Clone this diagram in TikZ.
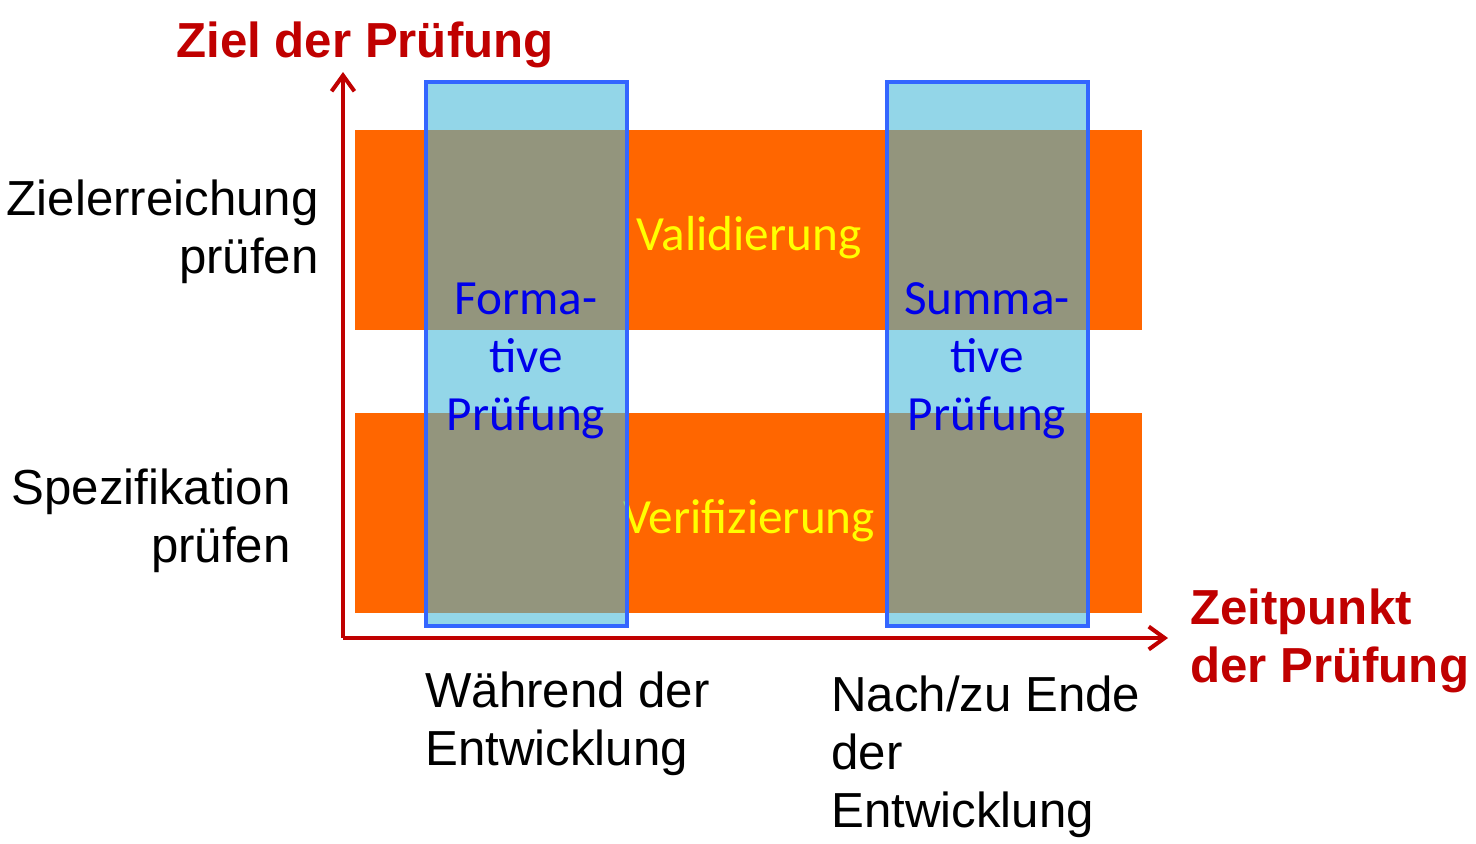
\documentclass[tikz,border=0pt]{standalone}
\usepackage{fontspec}
\setmainfont{Liberation Sans}
\newfontfamily\calibri{Carlito}
\usetikzlibrary{arrows.meta, positioning}
\definecolor{bandorange}{RGB}{255,102,0}
\definecolor{phaseblue}{RGB}{69,184,216}
\definecolor{edgeblue}{RGB}{51,102,255}
\definecolor{axisred}{RGB}{192,0,0}
\definecolor{textblue}{RGB}{0,0,235}
\definecolor{textyellow}{RGB}{255,255,0}

\begin{document}
\begin{tikzpicture}[x=0.02cm, y=-0.02cm,
  every node/.style={inner sep=0pt, font=\fontsize{28}{33}\selectfont},
  band/.style={fill=bandorange},
  phase/.style={fill=phaseblue, fill opacity=0.58, draw=edgeblue, draw opacity=1, line width=2.3pt},
  bandlabel/.style={text=textyellow, font=\calibri\fontsize{28}{33}\selectfont},
  phaselabel/.style={text=textblue, align=center, font=\calibri\fontsize{28}{33}\selectfont},
  axis/.style={draw=axisred, line width=2.3pt, -{Straight Barb[length=9pt,width=13pt]}},
  axislabel/.style={text=axisred, font=\bfseries\fontsize{28}{33}\selectfont}]
\useasboundingbox (0,0) rectangle (1476,843);

% Bands
\fill[band] (355,130) rectangle (1142,330);
\fill[band] (355,413) rectangle (1142,613);
\node[bandlabel, anchor=base] (valid) at (749,250) {Validierung};
\node[bandlabel, anchor=base] (verif) at (749,533) {Verifizierung};

% Phases
\draw[phase] (426,82) rectangle (627,626);
\draw[phase] (887,82) rectangle (1088,626);
\node[phaselabel, anchor=base] (formativ) at (526,430) {Forma-\\tive\\Prüfung};
\node[phaselabel, anchor=base] (summativ) at (987,430) {Summa-\\tive\\Prüfung};

% Axes
\coordinate (origin) at (343,638);
\coordinate (ytip) at (343,72);
\coordinate (xtip) at (1168,638);
\draw[axis] (origin) -- (ytip);
\draw[axis] (origin) -- (xtip);
\node[axislabel, anchor=base] (ylabel) at (365,57) {Ziel der Prüfung};
\node[axislabel, anchor=base west, align=left] (xlabel) at (1190,682) {Zeitpunkt\\der Prüfung};

% Row labels
\node[anchor=base east, align=right] (ziel) at (319,273) {Zielerreichung\\prüfen};
\node[anchor=base east, align=right] (spez) at (291,562) {Spezifikation\\prüfen};

% Column labels
\node[anchor=base west, align=left] (waehrend) at (425,765) {Während der\\Entwicklung};
\node[anchor=base west, align=left] (nach) at (831,827) {Nach/zu Ende\\der\\Entwicklung};
\end{tikzpicture}
\end{document}
